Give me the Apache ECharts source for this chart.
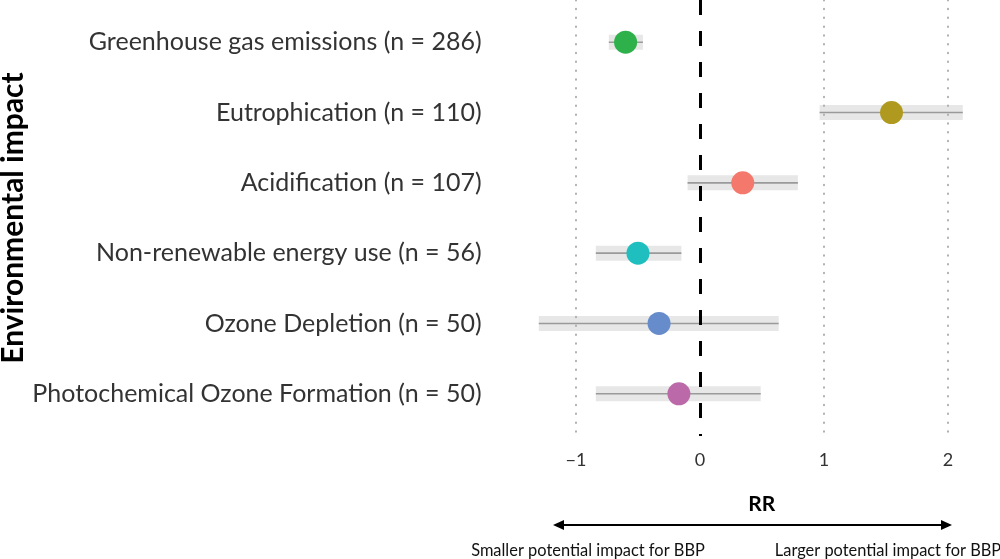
<!DOCTYPE html>
<html>
<head>
<meta charset="utf-8">
<script src="https://cdn.jsdelivr.net/npm/echarts@6/dist/echarts.min.js"></script>
<style>html,body{margin:0;padding:0;background:#fff;}#c{width:1000px;height:559px;}</style>
</head>
<body>
<div id="c"></div>
<script>
const categories = [
  'Greenhouse gas emissions (n = 286)',
  'Eutrophication (n = 110)',
  'Acidification (n = 107)',
  'Non-renewable energy use (n = 56)',
  'Ozone Depletion (n = 50)',
  'Photochemical Ozone Formation (n = 50)'
];
const estimates = [-0.60, 1.545, 0.345, -0.50, -0.33, -0.17];
const ciLow  = [-0.735, 0.965, -0.10, -0.84, -1.30, -0.84];
const ciHigh = [-0.46, 2.12, 0.79, -0.15, 0.635, 0.49];
const colors = ['#2eb14b', '#b0991f', '#f4786c', '#1fbfbf', '#678ccb', '#bb69a8'];
const xTicks = [-1, 0, 1, 2];
const gridTicks = [-1, 1, 2];
const refValue = 0;

const FONT = 'Lato';
const chart = echarts.init(document.getElementById('c'), null, {renderer: 'canvas'});

const ciData = categories.map((c, i) => [ciLow[i], ciHigh[i], i]);
const ptData = categories.map((c, i) => ({value: [estimates[i], i], itemStyle: {color: colors[i], opacity: 1}}));

const option = {
  backgroundColor: '#fff',
  animation: false,
  grid: {left: 517.6, right: 16, top: 0, height: 436, containLabel: false, outerBoundsMode: 'none'},
  xAxis: {
    type: 'value', min: -1.471, max: 2.291,
    axisLine: {show: false}, axisTick: {show: false, customValues: xTicks},
    splitLine: {show: false},
    axisLabel: {customValues: xTicks, margin: 15, fontSize: 18, color: '#333', fontFamily: FONT,
      formatter: v => (v < 0 ? '\u2212' + Math.abs(v) : String(v))},
    name: 'RR', nameLocation: 'middle', nameGap: 58,
    nameTextStyle: {fontSize: 21, fontWeight: 'bold', color: '#000', fontFamily: FONT, padding: [0, 0, 0, 22]}
  },
  yAxis: {
    type: 'value', min: -0.6, max: 5.6, inverse: true,
    axisLine: {show: false}, axisTick: {show: false, customValues: [0,1,2,3,4,5]},
    splitLine: {show: false},
    axisLabel: {customValues: [0,1,2,3,4,5], margin: 36, fontSize: 25, color: '#333', fontFamily: FONT,
      formatter: v => categories[Math.round(v)] || ''},
    name: 'Environmental impact', nameLocation: 'middle', nameRotate: 90, nameGap: 486,
    nameTextStyle: {fontSize: 30, fontWeight: 'bold', color: '#000', fontFamily: FONT}
  },
  series: [
    {
      type: 'custom', z: 1,
      data: ciData,
      encode: {x: [0, 1], y: 2},
      renderItem: function (params, api) {
        const y = api.value(2);
        const p0 = api.coord([api.value(0), y]);
        const p1 = api.coord([api.value(1), y]);
        const h = 15;
        return {
          type: 'group',
          children: [
            {type: 'rect', shape: {x: p0[0], y: p0[1] - h / 2, width: p1[0] - p0[0], height: h},
             style: {fill: '#e6e7e6'}},
            {type: 'line', shape: {x1: p0[0], y1: p0[1], x2: p1[0], y2: p1[1]},
             style: {stroke: '#9a9a9a', lineWidth: 1.6}}
          ]
        };
      }
    },
    {
      type: 'scatter', z: 2, data: [], symbolSize: 0,
      markLine: {
        silent: true, symbol: ['none', 'none'], label: {show: false},
        data: gridTicks.map(v => ({xAxis: v, lineStyle: {color: '#b0b0b0', width: 2, type: [0.5, 8.3], cap: 'round'}}))
      }
    },
    {
      type: 'scatter', z: 3, data: [], symbolSize: 0,
      markLine: {
        silent: true, symbol: ['none', 'none'], label: {show: false},
        data: [{xAxis: refValue, lineStyle: {color: '#000', width: 3, type: [15, 16]}}]
      }
    },
    {
      type: 'scatter', z: 4,
      symbolSize: 23,
      itemStyle: {opacity: 1},
      data: ptData
    }
  ],
  graphic: [
    {type: 'line', shape: {x1: 560, y1: 525, x2: 945, y2: 525}, style: {stroke: '#000', lineWidth: 2}},
    {type: 'polygon', shape: {points: [[553, 525], [564, 520], [564, 530]]}, style: {fill: '#000'}},
    {type: 'polygon', shape: {points: [[952, 525], [941, 520], [941, 530]]}, style: {fill: '#000'}},
    {type: 'text', style: {x: 588, y: 551, text: 'Smaller potential impact for BBP', align: 'center', verticalAlign: 'middle',
      fontSize: 16.4, fontFamily: FONT, fill: '#111'}},
    {type: 'text', style: {x: 888, y: 551, text: 'Larger potential impact for BBP', align: 'center', verticalAlign: 'middle',
      fontSize: 16.4, fontFamily: FONT, fill: '#111'}}
  ]
};
chart.setOption(option);
</script>
</body>
</html>
